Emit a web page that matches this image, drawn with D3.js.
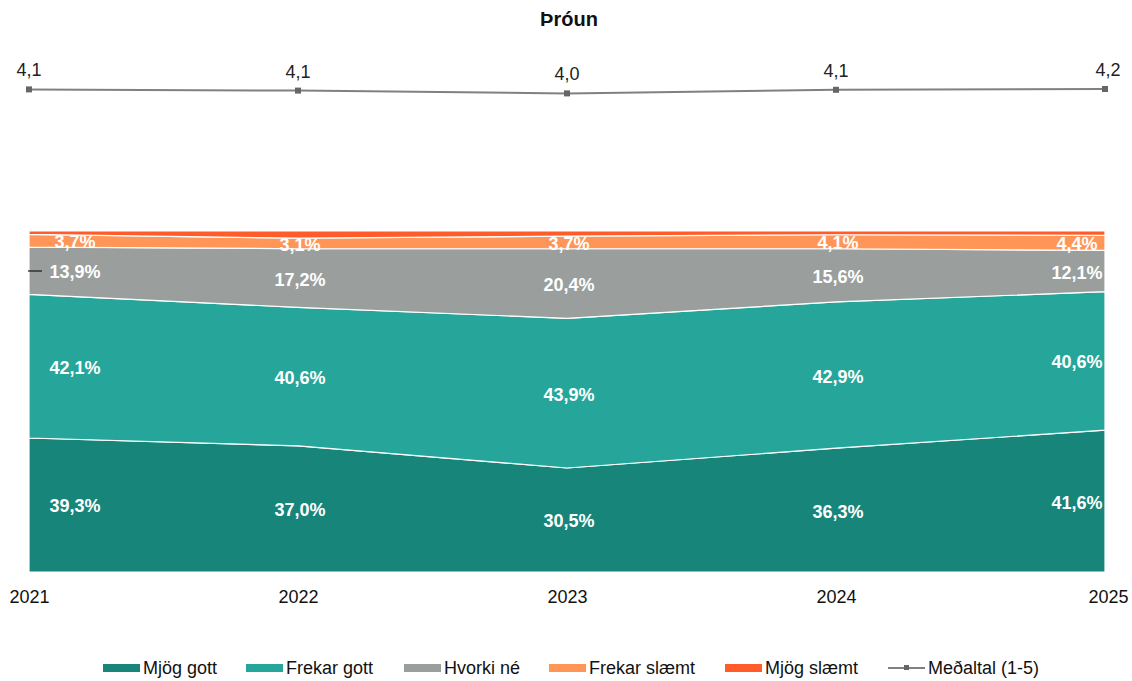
<!DOCTYPE html>
<html>
<head>
<meta charset="utf-8">
<script src="https://cdn.jsdelivr.net/npm/d3@7"></script>
<style>
  body { margin: 0; background: #fff; }
  text { font-family: "Liberation Sans", Arial, sans-serif; }
</style>
</head>
<body>
<svg width="1132" height="681"></svg>
<script>
const years = ['2021', '2022', '2023', '2024', '2025'];
const seriesNames = ['Mjög gott', 'Frekar gott', 'Hvorki né', 'Frekar slæmt', 'Mjög slæmt'];
const mjogGott = [39.3, 37.0, 30.5, 36.3, 41.6];
const frekarGott = [42.1, 40.6, 43.9, 42.9, 40.6];
const hvorkiNe = [13.9, 17.2, 20.4, 15.6, 12.1];
const frekarSlaemt = [3.7, 3.1, 3.7, 4.1, 4.4];
const mjogSlaemt = [1.0, 2.1, 1.5, 1.1, 1.3];
const medaltal = [4.14, 4.11, 4.04, 4.13, 4.15];
const colors = ['#17857a', '#26a69a', '#9a9f9e', '#ff9657', '#ff5b2b'];

const seriesValues = [mjogGott, frekarGott, hvorkiNe, frekarSlaemt, mjogSlaemt];
const rows = years.map((y, i) => {
  const r = { year: y };
  seriesNames.forEach((s, k) => { r[s] = seriesValues[k][i]; });
  return r;
});

const locale = d3.formatLocale({ decimal: ',', thousands: '.', grouping: [3], currency: ['', ' kr.'] });
const fmt1 = locale.format('.1f');

const svg = d3.select('svg');

const x = d3.scalePoint().domain(years).range([29, 1105]);
const y = d3.scaleLinear().domain([0, 100]).range([572, 231]);
const yAvg = d3.scaleLinear().domain([1, 5]).range([215, 55]);

// title
svg.append('text')
  .attr('x', 569).attr('y', 26)
  .attr('text-anchor', 'middle')
  .attr('font-size', 20).attr('font-weight', 'bold')
  .attr('fill', '#111')
  .text('Þróun');

// stacked areas
const stack = d3.stack().keys(seriesNames);
const layers = stack(rows);

const area = d3.area()
  .x(d => x(d.data.year))
  .y0(d => y(d[0]))
  .y1(d => y(d[1]));

svg.append('g').selectAll('path')
  .data(layers)
  .join('path')
  .attr('d', area)
  .attr('fill', (d, i) => colors[i])
  .attr('stroke', '#fff')
  .attr('stroke-width', 1.2);

// small dash at left edge
svg.append('line')
  .attr('x1', 28).attr('x2', 42)
  .attr('y1', 271).attr('y2', 271)
  .attr('stroke', '#222').attr('stroke-width', 1.3);

// data labels
const labelOffset = i => (i === 0 ? 46 : i === years.length - 1 ? -28 : 2);
const labels = svg.append('g');
layers.forEach(layer => {
  if (layer.key === 'Mjög slæmt') return;
  layer.forEach((d, i) => {
    labels.append('text')
      .attr('x', x(d.data.year) + labelOffset(i))
      .attr('y', y((d[0] + d[1]) / 2) + 1)
      .attr('dy', '0.36em')
      .attr('text-anchor', 'middle')
      .attr('font-size', 18).attr('font-weight', 'bold')
      .attr('fill', '#fff')
      .text(fmt1(d[1] - d[0]) + '%');
  });
});

// x axis labels
const xAxis = svg.append('g')
  .attr('transform', 'translate(0,572)')
  .call(d3.axisBottom(x).tickSize(0).tickPadding(18));
xAxis.select('.domain').remove();
xAxis.selectAll('text')
  .attr('font-size', 18)
  .attr('font-family', '"Liberation Sans", Arial, sans-serif')
  .attr('fill', '#111')
  .attr('dy', '0.71em');
xAxis.selectAll('.tick text').attr('dx', (d, i) => (i === years.length - 1 ? 3 : 0));

// average line
const line = d3.line()
  .x((d, i) => x(years[i]))
  .y(d => yAvg(d));

svg.append('path')
  .datum(medaltal)
  .attr('d', line)
  .attr('fill', 'none')
  .attr('stroke', '#808080')
  .attr('stroke-width', 2);

svg.append('g').selectAll('rect')
  .data(medaltal)
  .join('rect')
  .attr('x', (d, i) => x(years[i]) - 3)
  .attr('y', d => yAvg(d) - 3)
  .attr('width', 6).attr('height', 6)
  .attr('fill', '#666');

svg.append('g').selectAll('text')
  .data(medaltal)
  .join('text')
  .attr('x', (d, i) => x(years[i]) + (i === years.length - 1 ? 3 : 0))
  .attr('y', d => yAvg(d) - 13)
  .attr('text-anchor', 'middle')
  .attr('font-size', 18)
  .attr('fill', '#222')
  .text(d => fmt1(d));

// legend
const legendItems = [
  { name: 'Mjög gott', x: 103, type: 'rect', color: colors[0] },
  { name: 'Frekar gott', x: 246, type: 'rect', color: colors[1] },
  { name: 'Hvorki né', x: 404, type: 'rect', color: colors[2] },
  { name: 'Frekar slæmt', x: 549, type: 'rect', color: colors[3] },
  { name: 'Mjög slæmt', x: 725, type: 'rect', color: colors[4] },
  { name: 'Meðaltal (1-5)', x: 888, type: 'line', color: '#808080' }
];
const legend = svg.append('g');
legendItems.forEach(it => {
  const g = legend.append('g').attr('transform', `translate(${it.x},668)`);
  if (it.type === 'rect') {
    g.append('rect').attr('x', 0).attr('y', -4).attr('width', 37).attr('height', 8).attr('fill', it.color);
  } else {
    g.append('line').attr('x1', 0).attr('x2', 37).attr('y1', 0).attr('y2', 0)
      .attr('stroke', it.color).attr('stroke-width', 2);
    g.append('rect').attr('x', 16).attr('y', -3).attr('width', 5).attr('height', 5).attr('fill', '#666');
  }
  g.append('text')
    .attr('x', 40).attr('y', 0).attr('dy', '0.36em')
    .attr('font-size', 18).attr('fill', '#111')
    .text(it.name);
});
</script>
</body>
</html>
